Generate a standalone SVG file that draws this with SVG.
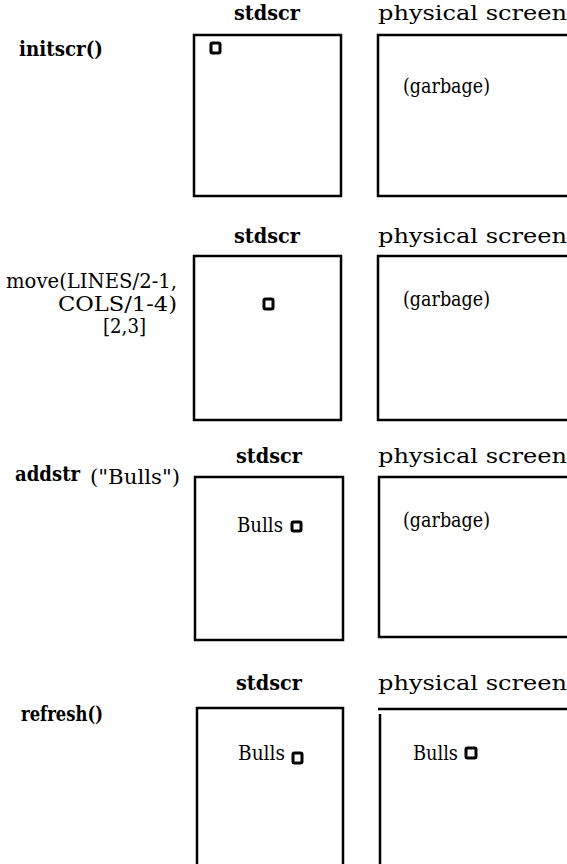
<svg xmlns="http://www.w3.org/2000/svg" width="567" height="864" viewBox="0 0 567 864">
<style>
text{font-family:"DejaVu Serif","Liberation Serif",serif;fill:#000;font-size:20px}
.b{font-weight:bold}
.box{fill:none;stroke:#000;stroke-width:2.5}
.cur{fill:none;stroke:#000;stroke-width:3}
</style>
<rect width="567" height="864" fill="#fff"/>
<g id="row1">
<text class="b" x="19" y="56" textLength="84" lengthAdjust="spacingAndGlyphs">initscr()</text>
<g id="r1-stdscr">
<text class="b" x="234" y="20" textLength="66" lengthAdjust="spacingAndGlyphs">stdscr</text>
<rect class="box" x="194" y="35" width="147" height="161"/>
<rect class="cur" x="211" y="43" width="9" height="10" rx="1.5"/>
</g>
<g id="r1-phys">
<text x="378" y="20" textLength="189" lengthAdjust="spacingAndGlyphs">physical screen</text>
<rect class="box" x="378" y="35" width="200" height="161"/>
<text x="403" y="93" textLength="87" lengthAdjust="spacingAndGlyphs">(garbage)</text>
</g>
</g>
<g id="row2">
<text x="6" y="288" textLength="171" lengthAdjust="spacingAndGlyphs">move(LINES/2-1,</text>
<text x="58" y="311" textLength="119" lengthAdjust="spacingAndGlyphs">COLS/1-4)</text>
<text x="103" y="333" textLength="43" lengthAdjust="spacingAndGlyphs">[2,3]</text>
<g id="r2-stdscr">
<text class="b" x="234" y="243" textLength="66" lengthAdjust="spacingAndGlyphs">stdscr</text>
<rect class="box" x="194" y="256" width="147" height="164"/>
<rect class="cur" x="264" y="299" width="9" height="10" rx="1.5"/>
</g>
<g id="r2-phys">
<text x="378" y="243" textLength="189" lengthAdjust="spacingAndGlyphs">physical screen</text>
<rect class="box" x="378" y="256" width="200" height="164"/>
<text x="403" y="306" textLength="87" lengthAdjust="spacingAndGlyphs">(garbage)</text>
</g>
</g>
<g id="row3">
<text class="b" x="15" y="481" textLength="65" lengthAdjust="spacingAndGlyphs">addstr</text>
<text x="90" y="484" font-size="18" textLength="90" lengthAdjust="spacingAndGlyphs">("Bulls")</text>
<g id="r3-stdscr">
<text class="b" x="236" y="463" textLength="66" lengthAdjust="spacingAndGlyphs">stdscr</text>
<rect class="box" x="195" y="477" width="148" height="163"/>
<text x="237" y="532" textLength="46" lengthAdjust="spacingAndGlyphs">Bulls</text>
<rect class="cur" x="292" y="522" width="9" height="9" rx="1.5"/>
</g>
<g id="r3-phys">
<text x="378" y="463" textLength="189" lengthAdjust="spacingAndGlyphs">physical screen</text>
<rect class="box" x="379" y="477" width="200" height="160"/>
<text x="403" y="527" textLength="87" lengthAdjust="spacingAndGlyphs">(garbage)</text>
</g>
</g>
<g id="row4">
<text class="b" x="21" y="721" textLength="82" lengthAdjust="spacingAndGlyphs">refresh()</text>
<g id="r4-stdscr">
<text class="b" x="236" y="690" textLength="66" lengthAdjust="spacingAndGlyphs">stdscr</text>
<path class="box" d="M197 866 V708 H343 V866"/>
<text x="238" y="760" textLength="47" lengthAdjust="spacingAndGlyphs">Bulls</text>
<rect class="cur" x="293" y="753" width="9" height="10" rx="1.5"/>
</g>
<g id="r4-phys">
<text x="378" y="690" textLength="189" lengthAdjust="spacingAndGlyphs">physical screen</text>
<path class="box" d="M378 709 H570"/>
<path class="box" d="M380 714 V866"/>
<text x="413" y="760" textLength="45" lengthAdjust="spacingAndGlyphs">Bulls</text>
<rect class="cur" x="466" y="748" width="10" height="10" rx="1.5"/>
</g>
</g>
</svg>
